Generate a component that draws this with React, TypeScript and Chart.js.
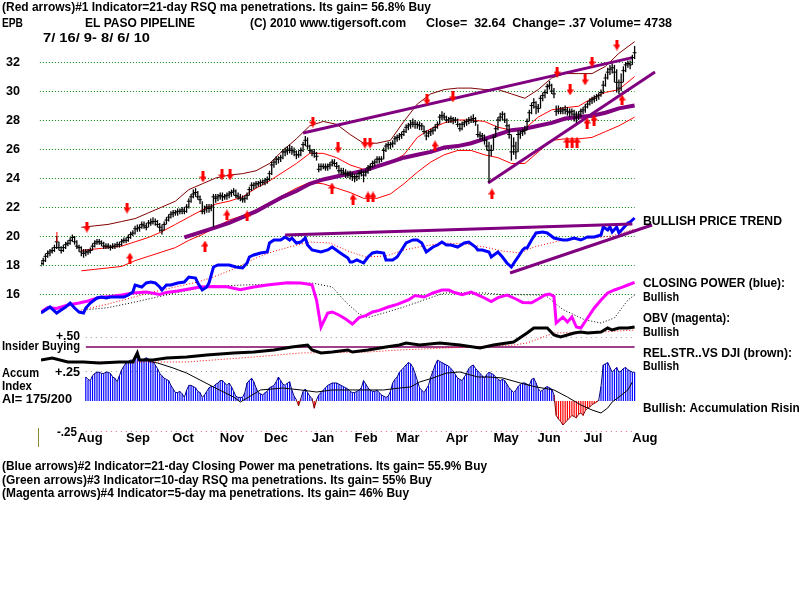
import React, { useEffect, useRef } from 'react';
import { Chart, registerables } from 'chart.js';

Chart.register(...registerables);

// ---------- daily price bars (7/16/09 - 8/6/10) ----------
const CLOSE = [
  18.1, 18.3, 18.6, 18.8, 18.9, 19.0, 19.2, 19.6, 19.2, 19.0,
  19.2, 19.4, 19.5, 19.7, 19.9, 19.6, 19.3, 19.2, 18.9, 18.8,
  18.9, 18.9, 19.0, 19.3, 19.5, 19.6, 19.6, 19.5, 19.3, 19.3,
  19.3, 19.2, 19.3, 19.3, 19.4, 19.4, 19.6, 19.7, 19.7, 19.9,
  20.1, 20.2, 20.5, 20.5, 20.6, 20.8, 20.7, 20.6, 20.9, 20.9,
  21.0, 21.0, 20.8, 20.6, 20.4, 20.8, 21.1, 21.3, 21.5, 21.6,
  21.6, 21.7, 21.7, 21.8, 21.7, 22.0, 22.4, 22.7, 22.9, 23.0,
  22.7, 22.5, 21.7, 21.8, 22.0, 21.9, 22.0, 22.7, 22.6, 22.7,
  22.8, 22.7, 22.7, 22.8, 22.9, 23.0, 23.1, 22.8, 22.7, 22.6,
  22.5, 22.6, 22.8, 23.2, 23.5, 23.5, 23.6, 23.6, 23.7, 23.7,
  23.8, 23.9, 24.3, 24.9, 25.1, 25.3, 25.3, 25.4, 25.8, 25.8,
  25.9, 26.0, 25.9, 25.8, 25.6, 25.6, 25.9, 26.3, 26.6, 26.2,
  25.9, 25.8, 25.7, 25.5, 24.6, 24.8, 24.8, 24.7, 24.8, 24.9,
  25.1, 25.0, 24.8, 24.5, 24.5, 24.4, 24.3, 24.3, 24.2, 24.1,
  24.0, 24.1, 24.3, 24.4, 24.2, 24.4, 24.7, 24.8, 25.0, 25.1,
  25.3, 25.3, 25.3, 25.9, 26.2, 26.3, 26.3, 26.4, 26.7, 26.8,
  26.9, 27.0, 27.2, 27.5, 27.6, 27.7, 27.8, 27.7, 27.7, 27.6,
  27.6, 27.2, 26.9, 27.1, 27.2, 27.3, 27.5, 27.7, 28.2, 28.3,
  28.2, 28.0, 28.0, 28.1, 28.0, 28.0, 27.7, 27.4, 27.7, 27.8,
  27.9, 28.0, 28.0, 28.1, 27.9, 27.0, 26.9, 26.9, 26.6, 26.2,
  25.9, 25.9, 26.8, 27.4, 28.0, 28.2, 28.4, 28.0, 27.6, 27.0,
  25.8, 26.2, 25.8, 27.0, 27.1, 27.2, 27.3, 27.9, 28.5, 29.0,
  29.2, 28.9, 28.8, 29.5, 29.7, 29.9, 30.3, 30.4, 30.0, 29.8,
  28.6, 28.7, 28.6, 28.7, 28.7, 28.6, 28.5, 28.6, 28.4, 28.2,
  28.4, 28.6, 28.7, 28.9, 29.1, 29.3, 29.4, 29.5, 29.6, 29.7,
  29.9, 30.4, 30.9, 31.3, 31.5, 31.6, 31.3, 30.6, 30.2, 30.6,
  31.4, 31.8, 31.9, 31.8, 32.3, 32.64,
];
const HIGH = [
  18.3, 18.5, 18.8, 19.0, 19.1, 19.2, 19.4, 20.0, 19.6, 19.3,
  19.4, 19.6, 19.7, 19.9, 20.1, 20.0, 19.7, 19.4, 19.3, 19.1,
  19.1, 19.1, 19.2, 19.5, 19.7, 19.8, 19.8, 19.7, 19.6, 19.5,
  19.5, 19.4, 19.5, 19.5, 19.6, 19.6, 19.8, 19.9, 19.9, 20.1,
  20.3, 20.4, 20.7, 20.8, 20.8, 21.0, 21.0, 20.9, 21.1, 21.2,
  21.3, 21.2, 21.1, 20.9, 20.8, 21.0, 21.3, 21.5, 21.7, 21.8,
  21.8, 21.9, 21.9, 22.0, 22.0, 22.2, 22.6, 22.9, 23.2, 23.3,
  23.1, 22.8, 22.4, 22.1, 22.2, 22.2, 22.2, 22.9, 22.9, 22.9,
  23.0, 23.0, 22.9, 23.0, 23.1, 23.2, 23.3, 23.2, 23.0, 22.9,
  22.8, 22.8, 23.0, 23.4, 23.7, 23.7, 23.8, 23.8, 23.9, 23.9,
  24.0, 24.1, 24.5, 25.1, 25.3, 25.5, 25.5, 25.6, 26.0, 26.1,
  26.2, 26.3, 26.2, 26.1, 25.9, 25.9, 26.1, 26.5, 26.9, 26.8,
  26.3, 26.0, 26.0, 25.8, 25.0, 25.0, 25.0, 25.0, 25.0, 25.1,
  25.3, 25.3, 25.1, 24.9, 24.7, 24.7, 24.6, 24.5, 24.5, 24.4,
  24.3, 24.3, 24.5, 24.6, 24.5, 24.6, 24.9, 25.0, 25.2, 25.3,
  25.5, 25.5, 25.5, 26.1, 26.4, 26.5, 26.5, 26.6, 26.9, 27.0,
  27.1, 27.2, 27.4, 27.7, 27.8, 28.0, 28.1, 28.0, 27.9, 27.9,
  27.8, 27.6, 27.3, 27.3, 27.4, 27.5, 27.7, 27.9, 28.4, 28.6,
  28.5, 28.3, 28.2, 28.3, 28.2, 28.2, 28.1, 27.8, 27.9, 28.0,
  28.1, 28.2, 28.3, 28.4, 28.2, 27.7, 27.2, 27.1, 27.0, 26.7,
  26.5, 26.3, 27.0, 27.6, 28.2, 28.5, 28.6, 28.5, 28.1, 27.7,
  27.0, 26.8, 26.5, 27.3, 27.3, 27.4, 27.6, 28.1, 28.7, 29.2,
  29.5, 29.3, 29.1, 29.7, 29.9, 30.1, 30.5, 30.7, 30.5, 30.2,
  29.0, 29.0, 28.9, 28.9, 29.0, 28.9, 28.8, 28.8, 28.7, 28.6,
  28.6, 28.8, 28.9, 29.1, 29.3, 29.5, 29.6, 29.7, 29.8, 29.9,
  30.1, 30.7, 31.2, 31.6, 31.8, 31.9, 31.8, 31.5, 30.8, 31.2,
  31.7, 32.0, 32.1, 32.1, 32.5, 33.1,
];
const LOW = [
  17.9, 18.0, 18.2, 18.5, 18.6, 18.8, 18.9, 19.1, 19.0, 18.8,
  18.9, 19.1, 19.3, 19.4, 19.6, 19.4, 19.1, 18.9, 18.6, 18.5,
  18.6, 18.7, 18.8, 19.0, 19.2, 19.4, 19.4, 19.3, 19.1, 19.1,
  19.1, 19.0, 19.1, 19.1, 19.2, 19.2, 19.3, 19.5, 19.5, 19.6,
  19.8, 20.0, 20.1, 20.3, 20.3, 20.5, 20.5, 20.4, 20.6, 20.7,
  20.8, 20.7, 20.6, 20.3, 20.1, 20.4, 20.8, 21.0, 21.2, 21.3,
  21.4, 21.4, 21.5, 21.5, 21.5, 21.6, 21.9, 22.3, 22.6, 22.7,
  22.5, 22.2, 21.5, 21.5, 21.6, 21.6, 21.7, 20.6, 22.3, 22.4,
  22.5, 22.4, 22.5, 22.5, 22.6, 22.7, 22.8, 22.6, 22.5, 22.4,
  22.3, 22.3, 22.5, 22.8, 23.1, 23.2, 23.3, 23.4, 23.4, 23.5,
  23.5, 23.6, 23.8, 24.2, 24.7, 24.9, 25.0, 25.1, 25.3, 25.5,
  25.6, 25.7, 25.6, 25.5, 25.3, 25.4, 25.5, 25.8, 26.2, 26.0,
  25.7, 25.5, 25.4, 25.2, 24.4, 24.5, 24.6, 24.5, 24.5, 24.6,
  24.8, 24.8, 24.6, 24.3, 24.2, 24.2, 24.0, 24.0, 23.9, 23.8,
  23.7, 23.8, 23.9, 24.1, 23.7, 24.1, 24.3, 24.5, 24.7, 24.8,
  25.0, 25.0, 25.1, 25.3, 25.8, 26.0, 26.0, 26.1, 26.3, 26.5,
  26.6, 26.7, 26.9, 27.1, 27.3, 27.4, 27.5, 27.4, 27.4, 27.3,
  27.3, 27.0, 26.6, 26.8, 26.9, 27.0, 27.2, 27.4, 27.7, 28.0,
  28.0, 27.8, 27.8, 27.8, 27.7, 27.8, 27.5, 27.2, 27.3, 27.5,
  27.6, 27.7, 27.8, 27.8, 27.6, 26.8, 26.6, 26.6, 26.3, 25.9,
  23.7, 25.5, 25.9, 26.8, 27.3, 27.9, 28.0, 27.8, 27.3, 26.7,
  25.2, 25.6, 25.3, 25.8, 26.7, 26.9, 27.0, 27.3, 27.9, 28.4,
  28.8, 28.4, 28.5, 28.8, 29.3, 29.5, 29.8, 30.1, 29.8, 29.5,
  28.3, 28.4, 28.4, 28.4, 28.4, 28.3, 28.2, 28.3, 27.9, 27.8,
  28.0, 28.2, 28.4, 28.5, 28.8, 29.0, 29.1, 29.2, 29.3, 29.4,
  29.6, 29.8, 30.3, 30.8, 31.1, 31.2, 30.6, 29.9, 29.8, 30.0,
  30.6, 31.3, 31.6, 31.5, 31.8, 32.2,
];

// ---------- price bands and trend ----------
const BAND_DAYS = [18, 24, 30, 36, 42, 48, 54, 60, 66, 72, 78, 84, 90, 96, 102, 108, 114, 120, 126, 132, 138, 144, 150, 156, 162, 168, 174, 180, 186, 192, 198, 204, 210, 216, 222, 228, 234, 240, 246, 252, 258, 265];
const UPPER_BAND = [20.6, 20.7, 20.8, 21.0, 21.2, 21.6, 22.0, 22.4, 23.2, 23.6, 24.0, 24.2, 24.3, 24.5, 25.0, 25.9, 26.7, 27.6, 27.9, 27.7, 27.0, 26.4, 26.4, 26.6, 27.9, 29.1, 29.8, 30.1, 30.2, 30.2, 30.1, 30.1, 29.8, 29.5, 30.1, 30.9, 31.2, 31.2, 31.2, 31.7, 32.6, 33.4];
const MIDDLE_BAND = [19.0, 19.1, 19.2, 19.3, 19.6, 19.9, 20.3, 20.8, 21.3, 21.8, 22.2, 22.4, 22.7, 23.3, 23.8, 24.4, 25.0, 25.7, 25.7, 25.4, 24.9, 24.6, 24.8, 25.1, 25.6, 26.8, 27.4, 27.8, 28.0, 28.0, 27.9, 27.5, 27.3, 27.4, 28.2, 28.7, 28.85, 28.95, 29.5, 29.9, 30.1, 31.0];
const LOWER_BAND = [17.6, 17.7, 17.8, 17.9, 18.3, 18.6, 18.9, 19.2, 19.7, 20.1, 20.6, 21.1, 21.4, 21.8, 22.3, 22.8, 23.3, 23.7, 23.6, 23.3, 23.0, 22.6, 22.6, 22.9, 23.6, 24.4, 25.1, 25.6, 25.9, 25.9, 25.6, 25.4, 25.0, 25.0, 25.8, 26.6, 26.7, 26.7, 26.8, 27.2, 27.6, 28.2];

const TREND_DAYS = [64, 70, 78, 84, 90, 96, 102, 108, 114, 120, 126, 132, 138, 144, 150, 156, 162, 168, 174, 180, 186, 192, 198, 204, 210, 216, 222, 228, 234, 240, 246, 252, 258, 265];
const TREND_MA = [19.9, 20.2, 20.6, 20.9, 21.3, 21.7, 22.2, 22.7, 23.1, 23.6, 23.9, 24.1, 24.3, 24.5, 24.8, 25.1, 25.4, 25.6, 25.8, 26.1, 26.2, 26.4, 26.7, 27.0, 27.3, 27.4, 27.6, 27.8, 28.1, 28.2, 28.3, 28.5, 28.8, 29.0];

const CHANNEL_DAYS = [117, 264];
const CHANNEL_PRICE = [27.1, 32.3];
const RISING_DAYS = [199.6, 274.1];
const RISING_PRICE = [23.66, 31.31];

// ---------- signal arrows ----------
const DOWN_DAYS = [20.5, 38.4, 72.3, 80.8, 84.4, 121.4, 132.6, 144.6, 146.9, 172.3, 183.9, 230.4, 236.2, 242.9, 246.0, 257.1];
const DOWN_PRICE = [20.62, 21.93, 24.07, 24.21, 24.21, 27.86, 26.07, 26.41, 26.41, 29.38, 29.59, 31.31, 30.07, 30.76, 32.0, 33.17];
const UP_DAYS = [39.7, 73.2, 83.0, 92.0, 129.9, 139.3, 146.0, 148.2, 175.9, 201.3, 234.8, 237.1, 239.3, 243.8, 246.9, 259.4];
const UP_PRICE = [18.48, 19.31, 21.45, 21.38, 23.31, 22.55, 22.69, 22.69, 26.21, 22.9, 26.48, 26.48, 26.48, 27.79, 28.0, 29.38];
const TICK_DAYS = [7.1];
const TICK_PRICE = [19.93];

// ---------- closing power ----------
const CP_DAYS = [0, 2, 4, 7, 9, 11, 13, 15, 17, 19, 20, 22, 25, 27, 29, 31, 34, 37, 39, 41, 42, 45, 47, 49, 51, 53, 54, 56, 58, 61, 64, 66, 69, 70, 72, 74, 75, 77, 79, 81, 84, 87, 90, 92, 93, 95, 98, 101, 102, 104, 107, 109, 111, 112, 114, 116, 118, 119, 121, 125, 128, 130, 133, 137, 138, 139, 141, 144, 146, 148, 150, 153, 154, 157, 159, 161, 163, 166, 168, 170, 172, 175, 177, 179, 181, 183, 186, 189, 191, 194, 195, 197, 200, 201, 204, 206, 208, 210, 212, 213, 215, 216, 217, 219, 221, 224, 226, 229, 233, 235, 238, 241, 244, 247, 250, 251, 253, 254, 255, 257, 258, 260, 262, 263, 265];
const CP_VALUES = [8.5, 10, 11.5, 8.5, 10, 11.5, 13.5, 11, 9, 8.5, 11, 13.5, 16, 16.5, 16, 16.5, 16.5, 16.5, 17.5, 19, 22.5, 21.5, 23.5, 24, 23.5, 21.5, 20, 22.5, 22.5, 23.5, 24, 26.5, 26, 23.5, 20, 21.5, 23.5, 31.5, 32.5, 32.5, 32.5, 31.5, 31, 33.5, 36.5, 37.5, 38.5, 39, 43.5, 45, 45, 46.5, 45, 46, 43.5, 44, 46, 42.5, 40, 39, 40, 41.5, 39, 36, 34, 34, 35, 33.5, 36.5, 38.5, 39, 38.5, 35, 35, 36.5, 40, 43.5, 45, 45, 43.5, 39, 41.5, 42.5, 44, 42.5, 42.5, 41.5, 43.5, 44, 41.5, 40, 40, 39, 36.5, 39, 36.5, 33.5, 31.5, 35, 36.5, 40, 41, 41, 45, 48.5, 49, 48.5, 46, 45, 45, 46, 45, 46.5, 46.5, 47.5, 51.5, 50, 51.5, 49, 51.5, 48.5, 51, 53.5, 54, 56];
const CP_MA_DAYS = [18, 30, 40, 50, 60, 70, 77, 85, 96, 103, 111, 120, 129, 137, 145, 154, 162, 171, 180, 189, 198, 206, 214, 220, 233, 247, 255, 262, 265];
const CP_MA = [10, 13, 16, 19, 21.5, 24, 26.5, 30, 36, 39, 41.5, 44, 43.5, 39.5, 36.5, 37, 40, 42, 43.5, 43, 41.5, 39.5, 38.5, 41.5, 45, 46, 47, 49.5, 50.5];
const CP_RESIST_DAYS = [109, 264];
const CP_RESIST = [47.5, 53];
const CP_SUPPORT_DAYS = [209.4, 272.8];
const CP_SUPPORT = [28.5, 52.5];

// ---------- on-balance volume (thousands) ----------
const OBV_DAYS = [0, 3, 7, 12, 17, 21, 26, 31, 36, 41, 47, 53, 56, 61, 66, 71, 77, 83, 89, 95, 101, 105, 110, 116, 121, 123, 125, 128, 130, 133, 136, 139, 142, 145, 148, 151, 155, 159, 164, 167, 171, 175, 179, 182, 185, 188, 192, 195, 198, 201, 204, 208, 212, 215, 219, 222, 225, 227, 229, 230, 233, 235, 237, 239, 241, 244, 247, 250, 253, 256, 259, 262, 265];
const OBV = [240, 262, 258, 275, 285, 295, 312, 318, 325, 335, 340, 328, 338, 345, 355, 365, 368, 366, 352, 365, 375, 380, 386, 385, 376, 300, 165, 235, 240, 225, 205, 180, 212, 222, 240, 248, 265, 278, 300, 322, 315, 335, 350, 350, 336, 326, 340, 326, 310, 292, 312, 325, 305, 288, 286, 305, 325, 330, 318, 185, 215, 190, 215, 165, 160, 210, 260, 300, 335, 350, 362, 375, 388];
const OBV_MA_DAYS = [19, 30, 40, 50, 60, 71, 80, 90, 100, 110, 121, 130, 136, 142, 146, 154, 162, 171, 180, 189, 198, 206, 225, 233, 243, 250, 256, 262, 265];
const OBV_MA = [250, 262, 285, 310, 335, 360, 370, 375, 378, 382, 385, 365, 290, 230, 212, 238, 265, 300, 335, 336, 335, 327, 325, 252, 200, 185, 210, 300, 325];

// ---------- relative strength vs DJI ----------
const RS_DAYS = [0, 5, 12, 19, 26, 35, 41, 43, 44, 50, 56, 65, 74, 86, 95, 104, 112, 119, 121, 125, 130, 137, 139, 146, 154, 160, 163, 169, 178, 187, 196, 202, 211, 217, 220, 226, 229, 232, 238, 241, 244, 250, 253, 255, 258, 262, 265];
const RS = [1.0, 1.033, 0.967, 0.967, 0.95, 0.967, 0.967, 1.117, 1.0, 1.0, 1.033, 1.05, 1.083, 1.117, 1.133, 1.167, 1.217, 1.25, 1.167, 1.117, 1.133, 1.167, 1.133, 1.167, 1.217, 1.25, 1.283, 1.25, 1.283, 1.25, 1.2, 1.25, 1.3, 1.45, 1.533, 1.533, 1.417, 1.383, 1.45, 1.467, 1.45, 1.467, 1.533, 1.5, 1.533, 1.533, 1.55];
const RS_MA_DAYS = [20, 45, 65, 95, 116, 146, 160, 181, 211, 217, 229, 250, 265];
const RS_MA = [0.967, 0.967, 0.967, 1.05, 1.117, 1.133, 1.167, 1.2, 1.25, 1.283, 1.45, 1.467, 1.5];
const INSIDER_DAYS = [20, 265];
const INSIDER = [0, 0];

// ---------- accumulation index (from day 20) ----------
const ACCUM_START = 20;
const ACCUM = [
  0.20, 0.18, 0.17, 0.21, 0.23, 0.24, 0.24, 0.23, 0.23, 0.24,
  0.24, 0.23, 0.20, 0.19, 0.16, 0.21, 0.26, 0.29, 0.32, 0.33,
  0.34, 0.34, 0.35, 0.37, 0.35, 0.34, 0.35, 0.36, 0.35, 0.34,
  0.33, 0.30, 0.27, 0.23, 0.21, 0.19, 0.18, 0.17, 0.13, 0.10,
  0.07, 0.07, 0.08, 0.06, 0.03, 0.09, 0.13, 0.13, 0.12, 0.11,
  0.08, 0.07, 0.03, 0.05, 0.08, 0.11, 0.12, 0.12, 0.14, 0.15,
  0.17, 0.17, 0.15, 0.13, 0.15, 0.12, 0.08, 0.04, 0.03, 0.03,
  0.03, 0.07, 0.15, 0.17, 0.19, 0.16, 0.11, 0.07, 0.06, 0.05,
  0.07, 0.08, 0.11, 0.12, 0.13, 0.16, 0.20, 0.17, 0.14, 0.13,
  0.15, 0.16, 0.09, 0.04, 0.01, -0.04, 0.02, 0.08, 0.10, 0.07,
  0.04, 0.02, -0.06, 0.01, 0.05, 0.07, 0.09, 0.11, 0.13, 0.14,
  0.15, 0.15, 0.15, 0.14, 0.13, 0.12, 0.11, 0.10, 0.08, 0.07,
  0.07, 0.08, 0.09, 0.11, 0.17, 0.14, 0.11, 0.09, 0.08, 0.08,
  0.09, 0.07, 0.05, 0.04, 0.03, 0.04, 0.08, 0.15, 0.18, 0.20,
  0.24, 0.26, 0.28, 0.30, 0.32, 0.31, 0.28, 0.23, 0.17, 0.11,
  0.09, 0.07, 0.10, 0.13, 0.20, 0.25, 0.30, 0.34, 0.33, 0.32,
  0.31, 0.30, 0.29, 0.27, 0.25, 0.22, 0.19, 0.18, 0.17, 0.20,
  0.23, 0.27, 0.29, 0.30, 0.27, 0.25, 0.23, 0.21, 0.19, 0.22,
  0.24, 0.23, 0.22, 0.20, 0.18, 0.17, 0.18, 0.17, 0.14, 0.11,
  0.09, 0.07, 0.09, 0.12, 0.14, 0.15, 0.15, 0.14, 0.13, 0.18,
  0.19, 0.15, 0.10, 0.08, 0.09, 0.11, 0.12, 0.11, 0.10, 0.05,
  -0.12, -0.15, -0.17, -0.20, -0.18, -0.16, -0.14, -0.12, -0.13, -0.14,
  -0.11, -0.10, -0.12, -0.08, -0.06, -0.05, -0.03, -0.02, -0.01, 0.01,
  0.12, 0.30, 0.31, 0.32, 0.28, 0.24, 0.26, 0.28, 0.24, 0.25,
  0.27, 0.28, 0.26, 0.25, 0.24, 0.24,
];
const ACCUM_MA_DAYS = [48, 52, 59, 65, 71, 77, 86, 89, 92, 98, 108, 116, 123, 130, 139, 146, 153, 160, 165, 169, 175, 181, 187, 195, 200, 206, 214, 221, 229, 235, 241, 246, 250, 253, 255, 258, 262, 264];
const ACCUM_MA = [0.33, 0.317, 0.275, 0.233, 0.175, 0.117, 0.033, -0.008, 0.025, 0.092, 0.108, 0.092, 0.075, 0.092, 0.092, 0.092, 0.092, 0.108, 0.117, 0.158, 0.192, 0.233, 0.242, 0.2, 0.2, 0.192, 0.15, 0.117, 0.092, 0.033, -0.033, -0.075, -0.1, -0.058, -0.008, 0.033, 0.092, 0.158];

// ---------- axis labels ----------
const PRICE_TICKS = [32, 30, 28, 26, 24, 22, 20, 18, 16];
const MONTHS = ['Aug', 'Sep', 'Oct', 'Nov', 'Dec', 'Jan', 'Feb', 'Mar', 'Apr', 'May', 'Jun', 'Jul', 'Aug'];
const MONTH_DAYS = [21.9, 43.3, 63.4, 85.3, 104.9, 125.9, 145.1, 163.8, 185.7, 207.6, 226.8, 246.4, 269.6];

// ---------- layout ----------
const W = 800;
const H = 600;
const AREA = { left: 41, top: 40, bottom: 460, dayPx: 2.24, days: 275 };
const LAST_DAY = CLOSE.length - 1;

// y-range for a hidden axis from two (value, pixel) anchors
function span(v1: number, y1: number, v2: number, y2: number) {
  const k = (v2 - v1) / (y1 - y2);
  return { min: v1 - (AREA.bottom - y1) * k, max: v1 + (y1 - AREA.top) * k };
}
const AXES: Record<string, { min: number; max: number }> = {
  price: span(32, 62, 16, 294),
  closingPower: span(0, 330, 50, 230),
  obv: span(0, 360, 500, 260),
  strength: span(1, 360, 1.25, 345),
  accum: span(0, 401, 0.25, 371),
  insider: span(0, 347, 0.5, 337),
};

const FONT = 'bold 13px "Liberation Sans", Arial, sans-serif';

const TEXTS = [
  { t: '(Red arrows)#1 Indicator=21-day RSQ ma penetrations. Its gain= 56.8% Buy', x: 2, y: 7, w: 429 },
  { t: 'EPB', x: 2, y: 23, w: 21 },
  { t: 'EL PASO PIPELINE', x: 85, y: 23, w: 110 },
  { t: '(C) 2010 www.tigersoft.com', x: 250, y: 23, w: 156 },
  { t: 'Close=  32.64  Change= .37 Volume= 4738', x: 426, y: 23, w: 246 },
  { t: '7/ 16/ 9- 8/ 6/ 10', x: 43, y: 38, w: 107 },
  { t: 'BULLISH PRICE TREND', x: 643, y: 221, w: 139 },
  { t: 'CLOSING POWER (blue):', x: 643, y: 283, w: 142 },
  { t: 'Bullish', x: 643, y: 297, w: 36 },
  { t: 'OBV (magenta):', x: 643, y: 318, w: 87 },
  { t: 'Bullish', x: 643, y: 332, w: 36 },
  { t: 'REL.STR..VS DJI (brown):', x: 643, y: 353, w: 149 },
  { t: 'Bullish', x: 643, y: 366, w: 36 },
  { t: 'Bullish: Accumulation Rising', x: 643, y: 408, w: 164 },
  { t: '+.50', x: 56, y: 336, w: 24 },
  { t: 'Insider Buying', x: 2, y: 346, w: 78 },
  { t: 'Accum', x: 2, y: 373, w: 37 },
  { t: '+.25', x: 55, y: 372, w: 25 },
  { t: 'Index', x: 2, y: 386, w: 30 },
  { t: 'AI= 175/200', x: 2, y: 399, w: 70 },
  { t: '-.25', x: 57, y: 432, w: 20 },
  { t: '(Blue arrows)#2 Indicator=21-day Closing Power ma penetrations. Its gain= 55.9% Buy', x: 2, y: 466, w: 485 },
  { t: '(Green arrows)#3 Indicator=10-day RSQ ma penetrations. Its gain= 55% Buy', x: 2, y: 480, w: 430 },
  { t: '(Magenta arrows)#4 Indicator=5-day ma penetrations. Its gain= 46% Buy', x: 2, y: 493, w: 407 },
];

const pts = (xs: number[], ys: number[]) => xs.map((x, k) => ({ x, y: ys[k] }));

function fitText(ctx: CanvasRenderingContext2D, text: string, x: number, y: number, w?: number) {
  const natural = ctx.measureText(text).width;
  ctx.save();
  ctx.translate(x, y);
  if (w) ctx.scale(w / natural, 1);
  ctx.fillText(text, 0, 0);
  ctx.restore();
}

function hline(ctx: CanvasRenderingContext2D, x0: number, x1: number, y: number) {
  const yy = Math.round(y) + 0.5;
  ctx.beginPath();
  ctx.moveTo(x0, yy);
  ctx.lineTo(x1, yy);
  ctx.stroke();
}

const decorPlugin = {
  id: 'tigerDecor',
  beforeDatasetsDraw(chart: any) {
    const { ctx, scales } = chart;
    const sx = scales.x;
    ctx.save();
    ctx.lineWidth = 1;
    ctx.setLineDash([1, 2]);
    ctx.strokeStyle = '#008000';
    const gx0 = sx.getPixelForValue(-0.5);
    const gx1 = sx.getPixelForValue(LAST_DAY);
    for (const v of PRICE_TICKS) hline(ctx, gx0, gx1, scales.price.getPixelForValue(v));

    const px0 = sx.getPixelForValue(ACCUM_START);
    ctx.setLineDash([1, 4]);
    ctx.strokeStyle = '#b088b0';
    hline(ctx, px0, gx1, scales.insider.getPixelForValue(0.5));
    ctx.strokeStyle = '#8c8c8c';
    hline(ctx, px0, gx1, scales.accum.getPixelForValue(0.25));
    ctx.strokeStyle = '#e0609a';
    hline(ctx, px0, gx1, scales.accum.getPixelForValue(-0.25));
    ctx.restore();
  },
  afterDraw(chart: any) {
    const { ctx, scales, chartArea } = chart;
    ctx.save();
    ctx.font = FONT;
    ctx.fillStyle = '#000';
    ctx.textBaseline = 'middle';
    ctx.textAlign = 'left';
    for (const l of TEXTS) fitText(ctx, l.t, l.x, l.y, l.w);
    for (const v of PRICE_TICKS) fitText(ctx, String(v), 6, scales.price.getPixelForValue(v), 14);
    ctx.textAlign = 'center';
    MONTHS.forEach((m, k) => {
      ctx.fillText(m, scales.x.getPixelForValue(MONTH_DAYS[k]), 438.5);
    });
    // small olive marker at the left of the accumulation scale
    ctx.strokeStyle = '#8a8a30';
    ctx.lineWidth = 1;
    const mx = Math.round(chartArea.left - 3) + 0.5;
    ctx.beginPath();
    ctx.moveTo(mx, scales.accum.getPixelForValue(-0.225));
    ctx.lineTo(mx, scales.accum.getPixelForValue(-0.383));
    ctx.stroke();
    ctx.restore();
  },
};

function makeArrow(up: boolean) {
  const c = document.createElement('canvas');
  c.width = 7;
  c.height = 11;
  const g = c.getContext('2d')!;
  g.fillStyle = '#ff0000';
  g.beginPath();
  if (up) {
    g.fillRect(2, 5, 3, 6);
    g.moveTo(0, 6);
    g.lineTo(7, 6);
    g.lineTo(3.5, 0);
  } else {
    g.fillRect(2, 0, 3, 6);
    g.moveTo(0, 5);
    g.lineTo(7, 5);
    g.lineTo(3.5, 11);
  }
  g.closePath();
  g.fill();
  return c;
}

function lineSet(axis: string, data: any[], color: string, width: number, order: number, extra: any = {}) {
  return {
    type: 'line',
    yAxisID: axis,
    data,
    borderColor: color,
    borderWidth: width,
    pointRadius: 0,
    tension: 0,
    fill: false,
    order,
    ...extra,
  };
}

function buildConfig(downArrow: HTMLCanvasElement, upArrow: HTMLCanvasElement): any {
  const dotted = { borderDash: [1, 2] };
  const datasets = [
    {
      type: 'line', yAxisID: 'price', data: pts(DOWN_DAYS, DOWN_PRICE), showLine: false,
      pointStyle: downArrow, pointRadius: 5, order: 0,
    },
    {
      type: 'line', yAxisID: 'price', data: pts(UP_DAYS, UP_PRICE), showLine: false,
      pointStyle: upArrow, pointRadius: 5, order: 0,
    },
    {
      type: 'line', yAxisID: 'price', data: pts(TICK_DAYS, TICK_PRICE), showLine: false,
      pointStyle: 'line', pointRotation: 90, pointRadius: 5, pointBorderColor: '#ff0000', pointBorderWidth: 1, order: 0,
    },
    {
      type: 'line', yAxisID: 'price', data: CLOSE.map((c, i) => ({ x: i, y: c })), showLine: false,
      pointStyle: 'line', pointRadius: 2, pointBorderColor: '#000', pointBorderWidth: 1, order: 1,
    },
    {
      type: 'bar', yAxisID: 'price', data: CLOSE.map((_, i) => ({ x: i, y: [LOW[i], HIGH[i]] })),
      backgroundColor: '#000', barThickness: 1.3, grouped: false, inflateAmount: 0, borderWidth: 0, order: 1,
    },
    lineSet('price', pts(CHANNEL_DAYS, CHANNEL_PRICE), '#800080', 3, 2),
    lineSet('price', pts(RISING_DAYS, RISING_PRICE), '#800080', 3, 2),
    lineSet('price', pts(TREND_DAYS, TREND_MA), '#800080', 4, 2),
    lineSet('price', pts(BAND_DAYS, UPPER_BAND), '#800000', 1, 3),
    lineSet('price', pts(BAND_DAYS, MIDDLE_BAND), '#ff0000', 1, 3),
    lineSet('price', pts(BAND_DAYS, LOWER_BAND), '#ff0000', 1, 3),

    lineSet('closingPower', pts(CP_RESIST_DAYS, CP_RESIST), '#800080', 3, 2),
    lineSet('closingPower', pts(CP_SUPPORT_DAYS, CP_SUPPORT), '#800080', 3, 2),
    lineSet('closingPower', pts(CP_DAYS, CP_VALUES), '#0000ff', 3, 2),
    lineSet('closingPower', pts(CP_MA_DAYS, CP_MA), '#ff0000', 1, 3, dotted),

    lineSet('obv', pts(OBV_DAYS, OBV), '#ff00ff', 3, 2),
    lineSet('obv', pts(OBV_MA_DAYS, OBV_MA), '#000000', 1, 3, dotted),

    lineSet('strength', pts(RS_DAYS, RS), '#000000', 3, 2),
    lineSet('strength', pts(RS_MA_DAYS, RS_MA), '#ff0000', 1, 3, dotted),
    lineSet('insider', pts(INSIDER_DAYS, INSIDER), '#800060', 1.5, 3),

    lineSet('accum', pts(ACCUM_MA_DAYS, ACCUM_MA), '#000000', 1, 3),
    lineSet('accum', ACCUM.map((v, k) => ({ x: ACCUM_START + k, y: v })), '#000080', 1, 4, {
      segment: {
        borderColor: (c: any) => (c.p0.parsed.y < 0 || c.p1.parsed.y < 0 ? '#800000' : '#000080'),
      },
    }),
    {
      type: 'bar', yAxisID: 'accum', data: ACCUM.map((v, k) => ({ x: ACCUM_START + k, y: v })),
      backgroundColor: ACCUM.map((v) => (v < 0 ? '#ff0000' : '#0000ff')),
      barThickness: 1.2, grouped: false, inflateAmount: 0, borderWidth: 0, order: 5,
    },
  ];

  const hidden = (r: { min: number; max: number }) => ({
    type: 'linear', axis: 'y', position: 'left', display: false, min: r.min, max: r.max,
  });

  return {
    type: 'line',
    data: { datasets },
    options: {
      animation: false,
      responsive: false,
      events: [],
      layout: {
        padding: {
          left: AREA.left,
          right: W - AREA.left - AREA.days * AREA.dayPx,
          top: AREA.top,
          bottom: H - AREA.bottom,
        },
      },
      plugins: { legend: { display: false }, tooltip: { enabled: false } },
      scales: {
        x: { type: 'linear', axis: 'x', position: 'bottom', display: false, min: 0, max: AREA.days, offset: false },
        price: hidden(AXES.price),
        closingPower: hidden(AXES.closingPower),
        obv: hidden(AXES.obv),
        strength: hidden(AXES.strength),
        accum: hidden(AXES.accum),
        insider: hidden(AXES.insider),
      },
    },
    plugins: [decorPlugin],
  };
}

export default function App() {
  const canvasRef = useRef<HTMLCanvasElement>(null);

  useEffect(() => {
    const canvas = canvasRef.current;
    if (!canvas) return;
    const chart = new Chart(canvas, buildConfig(makeArrow(false), makeArrow(true)));
    return () => chart.destroy();
  }, []);

  return (
    <div style={{ position: 'fixed', left: 0, top: 0, width: W, height: H, background: '#fff' }}>
      <canvas ref={canvasRef} width={W} height={H} style={{ display: 'block' }} />
    </div>
  );
}
